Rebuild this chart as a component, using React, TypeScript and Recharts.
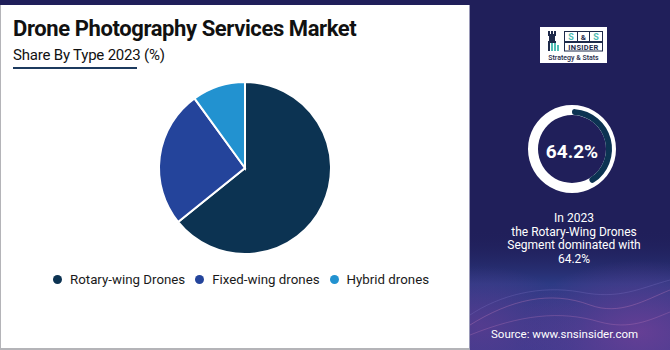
import React from "react";
import { PieChart, Pie, Cell, Legend } from "recharts";

const categories = ["Rotary-wing Drones", "Fixed-wing drones", "Hybrid drones"];
const shares = [64.2, 25.8, 10.0];
const sliceColors = ["#0c3352", "#24449b", "#2292d0"];

const titleText = "Drone Photography Services Market";
const subtitleText = "Share By Type 2023 (%)";
const highlightValue = "64.2%";
const gaugeArc = [42, 58];
const summaryLines = ["In 2023", "the Rotary-Wing Drones", "Segment dominated with", "64.2%"];
const sourceText = "Source: www.snsinsider.com";

const pieData = categories.map((name, i) => ({ name, value: shares[i] }));
const gaugeData = gaugeArc.map((value, i) => ({ name: i === 0 ? "filled" : "rest", value }));
const ringData = [{ name: "ring", value: 1 }];

const FONT = "Roboto, 'Noto Sans', sans-serif";

const LegendContent = (props: any) => {
  const payload = [...(props.payload || [])].sort(
    (a: any, b: any) => categories.indexOf(a.value) - categories.indexOf(b.value)
  );
  return (
    <div style={{ display: "flex", alignItems: "center", fontFamily: FONT, fontSize: 13.3, color: "#1a1a1a" }}>
      {payload.map((p: any, i: number) => (
        <div key={i} style={{ display: "flex", alignItems: "center", marginRight: 10 }}>
          <span style={{ width: 9, height: 9, borderRadius: "50%", background: p.color, display: "inline-block", marginRight: 8 }} />
          <span>{p.value}</span>
        </div>
      ))}
    </div>
  );
};

const NAVY = "#1e2a4a";
const TEAL = "#4fbdb5";

const Logo = () => (
  <svg width={67} height={36} style={{ position: "absolute", left: 540, top: 27 }}>
    <rect x={0} y={0} width={67} height={36} fill="#ffffff" />
    <rect x={8} y={4} width={2} height={3} fill={NAVY} />
    <rect x={11} y={4} width={2} height={3} fill={NAVY} />
    <rect x={14} y={4} width={2} height={3} fill={NAVY} />
    <rect x={8} y={7} width={8} height={2} fill={NAVY} />
    <rect x={9} y={9} width={6} height={5} fill={NAVY} />
    <rect x={8} y={14} width={8} height={2} fill={NAVY} />
    <rect x={8} y={16} width={2} height={8} fill={NAVY} />
    <rect x={11} y={16} width={2} height={8} fill={TEAL} />
    <rect x={14} y={16} width={2} height={8} fill={TEAL} />
    <rect x={17} y={18} width={2} height={6} fill={TEAL} />
    <rect x={24.5} y={4.5} width={38} height={10} fill="#fff" stroke={NAVY} strokeWidth={1} />
    <line x1={37.5} y1={4.5} x2={37.5} y2={14.5} stroke={NAVY} strokeWidth={1} />
    <line x1={49.5} y1={4.5} x2={49.5} y2={14.5} stroke={NAVY} strokeWidth={1} />
    <text x={31} y={12.8} fontSize={9} fontWeight={700} fill={TEAL} textAnchor="middle" fontFamily={FONT}>S</text>
    <text x={43.5} y={12.5} fontSize={8} fontWeight={700} fill={NAVY} textAnchor="middle" fontFamily={FONT}>&amp;</text>
    <text x={56} y={12.8} fontSize={9} fontWeight={700} fill={TEAL} textAnchor="middle" fontFamily={FONT}>S</text>
    <rect x={24.5} y={15.5} width={38} height={8.5} fill="#fff" stroke={NAVY} strokeWidth={1} />
    <text x={43.5} y={22.6} fontSize={7.5} fontWeight={700} fill={NAVY} textAnchor="middle" fontFamily={FONT} letterSpacing={0.3}>INSIDER</text>
    <text x={33.5} y={33} fontSize={7} fontWeight={500} fill={NAVY} textAnchor="middle" fontFamily={FONT}>Strategy &amp; Stats</text>
  </svg>
);

const Waves = () => (
  <svg width={200} height={120} style={{ position: "absolute", left: 470, top: 230 }}>
    <defs>
      <linearGradient id="bgfade" x1="0" y1="0" x2="0" y2="1">
        <stop offset="0" stopColor="#201f5a" stopOpacity={0} />
        <stop offset="0.45" stopColor="#2c3a84" stopOpacity={1} />
        <stop offset="1" stopColor="#3a3b8e" stopOpacity={1} />
      </linearGradient>
      <radialGradient id="purp" cx="0.85" cy="0.85" r="0.6">
        <stop offset="0" stopColor="#6a3f96" stopOpacity={0.9} />
        <stop offset="1" stopColor="#6a3f96" stopOpacity={0} />
      </radialGradient>
      <radialGradient id="purp2" cx="0.05" cy="0.8" r="0.5">
        <stop offset="0" stopColor="#5b3c90" stopOpacity={0.8} />
        <stop offset="1" stopColor="#5b3c90" stopOpacity={0} />
      </radialGradient>
    </defs>
    <rect x={0} y={0} width={200} height={120} fill="url(#bgfade)" />
    <rect x={0} y={0} width={200} height={120} fill="url(#purp)" />
    <rect x={0} y={0} width={200} height={120} fill="url(#purp2)" />
    <path d="M0,95 C40,70 80,60 120,75 C150,86 175,70 200,60" fill="none" stroke="#c07ab8" strokeOpacity={0.35} strokeWidth={1} />
    <path d="M0,105 C50,85 90,80 130,92 C160,100 180,90 200,82" fill="none" stroke="#c07ab8" strokeOpacity={0.3} strokeWidth={1} />
    <path d="M0,85 C30,65 70,55 110,62 C150,70 170,58 200,50" fill="none" stroke="#8a7ed0" strokeOpacity={0.25} strokeWidth={1} />
  </svg>
);

export default function App() {
  return (
    <div style={{ position: "absolute", left: 0, top: 0, width: 670, height: 350, background: "#201f5a", overflow: "hidden", fontFamily: FONT }}>
      <Waves />
      <div style={{ position: "absolute", left: 0, top: 5, width: 468, height: 343, background: "#ffffff", borderLeft: "1px solid #b4b4b8", borderRight: "1px solid #9a9ab8", borderBottom: "2px solid #b4b4b8" }} />
      <div style={{ position: "absolute", left: 13, top: 16, fontSize: 22, fontWeight: 700, color: "#111", letterSpacing: -0.4, whiteSpace: "nowrap" }}>{titleText}</div>
      <div style={{ position: "absolute", left: 13, top: 46, fontSize: 15, color: "#111", letterSpacing: -0.2, whiteSpace: "nowrap" }}>{subtitleText}</div>
      <div style={{ position: "absolute", left: 13, top: 67, width: 124, height: 2, background: "#1c3a5e" }} />

      <div style={{ position: "absolute", left: 0, top: 0 }}>
        <PieChart width={470} height={350}>
          <Pie
            data={pieData}
            dataKey="value"
            nameKey="name"
            cx={240}
            cy={163}
            outerRadius={86}
            innerRadius={0}
            startAngle={90}
            endAngle={-270}
            stroke="#ffffff"
            strokeWidth={2}
            isAnimationActive={false}
          >
            {pieData.map((d, i) => (
              <Cell key={d.name} fill={sliceColors[i]} />
            ))}
          </Pie>
          <Legend
            content={<LegendContent />}
            wrapperStyle={{ position: "absolute", top: 272, left: 53, width: 420 }}
          />
        </PieChart>
      </div>

      <Logo />

      <div style={{ position: "absolute", left: 470, top: 0 }}>
        <PieChart width={200} height={350}>
          <Pie data={ringData} dataKey="value" cx={97} cy={144} innerRadius={34} outerRadius={44} startAngle={90} endAngle={-270} stroke="none" fill="#ffffff" isAnimationActive={false} />
          <Pie data={gaugeData} dataKey="value" cx={97} cy={144} innerRadius={34} outerRadius={40} startAngle={90} endAngle={-270} cornerRadius={3} stroke="none" isAnimationActive={false}>
            {gaugeData.map((d, i) => (
              <Cell key={d.name} fill={i === 0 ? "#0c3352" : "transparent"} />
            ))}
          </Pie>
        </PieChart>
      </div>

      <div style={{ position: "absolute", left: 522, top: 140, width: 100, textAlign: "center", color: "#fff", fontSize: 19, fontWeight: 700 }}>{highlightValue}</div>
      <div style={{ position: "absolute", left: 474, top: 212, width: 200, textAlign: "center", color: "#fff", fontSize: 12, lineHeight: "13.7px" }}>
        {summaryLines.map((l, i) => (
          <div key={i}>{l}</div>
        ))}
      </div>
      <div style={{ position: "absolute", left: 491, top: 327, color: "#fff", fontSize: 11.5, whiteSpace: "nowrap" }}>{sourceText}</div>
    </div>
  );
}
